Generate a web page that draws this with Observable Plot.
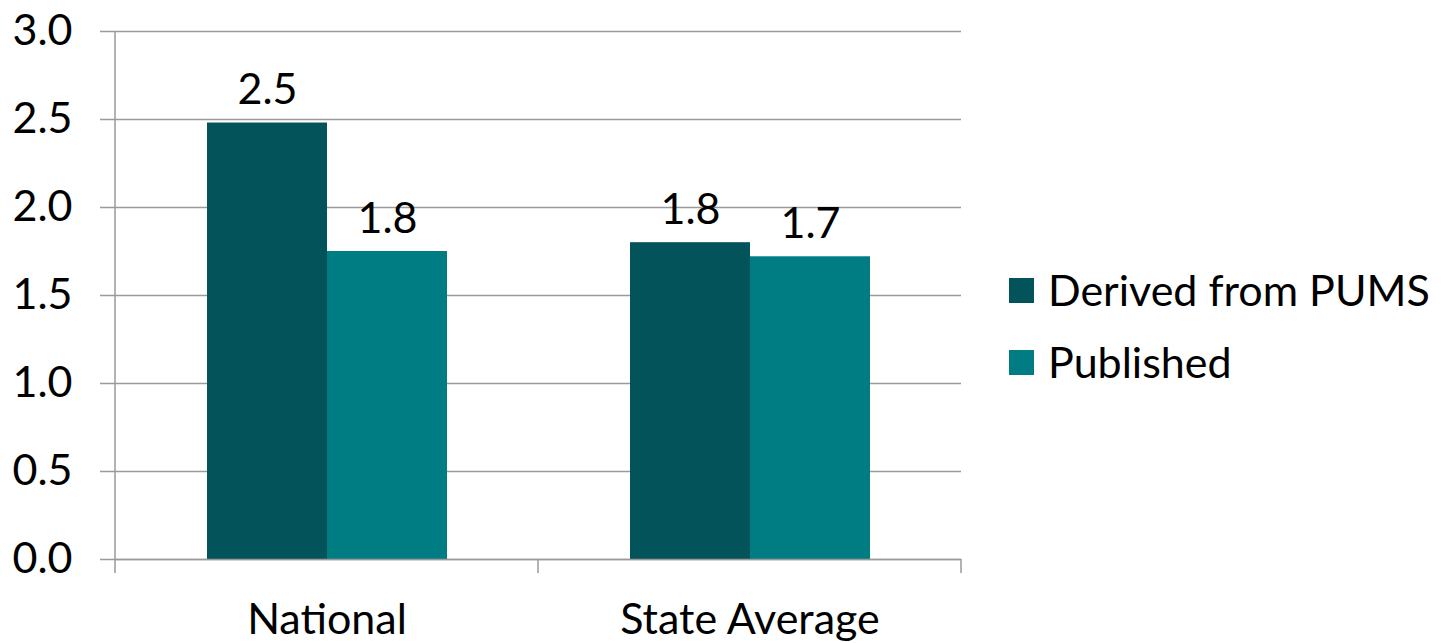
<!DOCTYPE html>
<html>
<head>
<meta charset="utf-8">
<script src="https://cdn.jsdelivr.net/npm/d3@7"></script>
<script src="https://cdn.jsdelivr.net/npm/@observablehq/plot@0.6"></script>
<style>
  html, body { margin: 0; padding: 0; background: #fff; }
  #wrap { position: relative; width: 1447px; height: 643px; font-family: Lato, "DejaVu Sans", sans-serif; }
  #legend { position: absolute; left: 1009px; top: 0; }
  .row { position: absolute; left: 0; display: flex; align-items: center; white-space: nowrap; font-size: 43px; line-height: 52px; color: #000; }
  .sw { width: 25px; height: 25px; margin-right: 14px; }
</style>
</head>
<body>
<div id="wrap">
  <div id="chart"></div>
  <div id="legend"></div>
</div>
<script>
// Categories, series and their values
const categories = ["National", "State Average"];
const seriesNames = ["Derived from PUMS", "Published"];
const derivedValues = [2.48, 1.80];
const publishedValues = [1.75, 1.72];
const seriesColors = ["#03535A", "#007C83"];
const yTicks = [0, 0.5, 1.0, 1.5, 2.0, 2.5, 3.0];

const rows = [];
categories.forEach((c, i) => {
  rows.push({category: c, series: seriesNames[0], value: derivedValues[i]});
  rows.push({category: c, series: seriesNames[1], value: publishedValues[i]});
});

const fmt = d3.format(".1f");
const gridColor = "#9a9a9a";
const fs = 43;

const chart = Plot.plot({
  width: 1447,
  height: 643,
  marginLeft: 115,
  marginRight: 486,
  marginTop: 31,
  marginBottom: 84,
  style: {fontFamily: "Lato, 'DejaVu Sans', sans-serif", fontSize: fs + "px", color: "#000", background: "#fff"},
  fx: {domain: categories, padding: 0, label: null},
  x: {domain: seriesNames, paddingInner: 0, paddingOuter: 0.75, axis: null},
  y: {domain: [0, 3], label: null},
  color: {domain: seriesNames, range: seriesColors},
  marks: [
    Plot.gridY(yTicks, {stroke: gridColor, strokeOpacity: 1, strokeWidth: 1.5}),
    Plot.axisY(yTicks, {
      anchor: "left", tickSize: 15, tickPadding: 28, tickFormat: fmt,
      stroke: gridColor, strokeWidth: 1.5, fontSize: fs, label: null
    }),
    Plot.axisFx({anchor: "bottom", tickSize: 0, tickPadding: 44, fontSize: fs, label: null}),
    Plot.barY(rows, {fx: "category", x: "series", y: "value", fill: "series"}),
    Plot.text(rows, {
      fx: "category", x: "series", y: "value",
      text: d => fmt(d.value), lineAnchor: "bottom", dy: -19, fontSize: fs, fill: "#000"
    }),
    Plot.ruleY([0], {stroke: gridColor, strokeWidth: 1.5})
  ]
});

// Y axis line and category-boundary ticks on the x axis, placed with the chart's scales
const svg = d3.select(chart);
const fxScale = chart.scale("fx");
const yScale = chart.scale("y");
const y0 = yScale.apply(0);
const yTop = yScale.apply(3);
const edges = [];
categories.forEach((c, i) => {
  const left = fxScale.apply(c);
  if (i === 0) edges.push(left);
  edges.push(left + fxScale.bandwidth);
});
const g = svg.append("g").attr("stroke", gridColor).attr("stroke-width", 1.5);
g.append("line").attr("x1", edges[0]).attr("x2", edges[0]).attr("y1", yTop).attr("y2", y0 + 14);
edges.slice(1).forEach(x => {
  g.append("line").attr("x1", x).attr("x2", x).attr("y1", y0).attr("y2", y0 + 14);
});

document.getElementById("chart").appendChild(chart);

// Legend
const legend = d3.select("#legend");
const legendTops = [264, 336];
seriesNames.forEach((name, i) => {
  const row = legend.append("div").attr("class", "row").style("top", legendTops[i] + "px");
  row.append("div").attr("class", "sw").style("background", seriesColors[i]);
  row.append("span").text(name);
});
</script>
</body>
</html>
